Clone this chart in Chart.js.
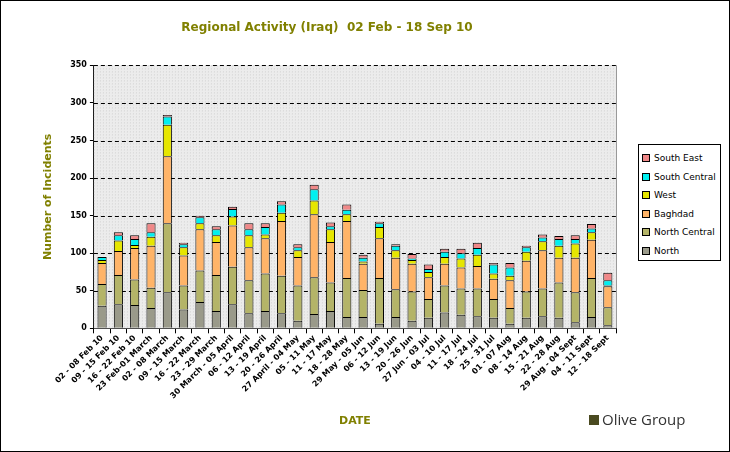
<!DOCTYPE html>
<html><head><meta charset="utf-8">
<script src="https://cdn.jsdelivr.net/npm/chart.js@4.4.0/dist/chart.umd.min.js"></script>
<style>
body{margin:0;background:#fff;font-family:Verdana,"DejaVu Sans",sans-serif}
#wrap{position:relative;width:728px;height:450px;border:1px solid #000}
#legend{position:absolute;left:637px;top:143px;width:83px;height:117px;border:1px solid #000;background:#fff;font-size:9px;box-sizing:border-box;padding:4px 3px}
#legend div{display:flex;align-items:center;height:18.5px}
#legend span.s{display:inline-block;width:6px;height:6px;border:1px solid #000;margin-right:4px}
#logo{position:absolute;left:588px;top:408px;font-size:15px;color:#333;font-family:"Open Sans",sans-serif}
#logo b{display:inline-block;width:10px;height:10px;background:#4a4a20;margin-right:3px}
</style></head><body>
<div id="wrap"><canvas id="c" width="728" height="450"></canvas>
<div id="legend"></div>
<div id="logo"><b></b>Olive Group</div></div>
<script>
const categories=["02 - 08 Feb 10","09 - 15 Feb 10","16 - 22 Feb 10","23 Feb-01 March","02 - 08 March","09 - 15 March","16 - 22 March","23 - 29 March","30 March - 05 April","06 - 12 April","13 - 19 April","20 - 26 April","27 April - 04 May","05 - 11 May","11 - 17 May","18 - 28 May","29 May - 05 Jun","06 - 12 Jun","13 - 19 Jun","20 - 26 Jun","27 Jun - 03 Jul","04 - 10 Jul","11 - 17 Jul","18 - 24 Jul","25 - 31 Jul","01 - 07 Aug","08 - 14 Aug","15 - 21 Aug","22 - 28 Aug","29 Aug - 04 Sept","04 - 11 Sept","12 - 18 Sept"];
const north=[30,32,31,27,48,25,35,23,32,20,23,20,10,19,23,15,15,6,15,10,14,21,18,16,14,6,14,16,14,8,15,4];
const northCentral=[29,39,34,27,92,32,42,48,50,44,50,50,47,49,38,52,36,61,37,39,25,36,35,37,25,21,35,37,47,40,52,24];
const baghdad=[28,32,42,56,89,40,55,44,55,44,47,73,38,84,54,76,35,53,42,37,29,29,28,30,27,37,41,51,33,46,51,28];
const west=[4,14,4,12,42,11,8,9,12,16,5,11,9,18,17,9,3,15,10,5,7,9,12,15,7,6,12,12,16,19,10,1];
const southCentral=[4,7,8,6,11,4,8,8,10,8,10,11,4,15,4,6,5,5,6,2,4,7,7,9,12,11,6,5,9,6,5,7];
const southEast=[0,4,5,12,2,2,2,4,3,8,5,4,4,6,5,7,4,2,2,6,6,4,6,7,2,6,2,4,4,5,6,10];
const yTicks=[0,50,100,150,200,250,300,350];

const ctx=document.getElementById('c').getContext('2d');
const series=[
 ["North",north,"#9a9a8a"],
 ["North Central",northCentral,"#b4b468"],
 ["Baghdad",baghdad,"#ffb468"],
 ["West",west,"#e6e600"],
 ["South Central",southCentral,"#00f0f0"],
 ["South East",southEast,"#f08888"]];
const lg=document.getElementById('legend');
series.slice().reverse().forEach(s=>{lg.innerHTML+=`<div><span class="s" style="background:${s[2]}"></span>${s[0]}</div>`;});
const bgPlugin={id:'bg',beforeDatasetsDraw(ch){const a=ch.chartArea,c=ch.ctx;c.save();c.fillStyle='#ececec';c.fillRect(a.left,a.top,a.right-a.left,a.bottom-a.top);
 c.fillStyle='#d0d0d0';for(let x=a.left;x<a.right;x+=3)for(let y=a.top;y<a.bottom;y+=3)c.fillRect(x,y,1,1);
 const ys=ch.scales.y;c.strokeStyle='#000';c.lineWidth=1;c.setLineDash([4,3]);
 yTicks.slice(1).forEach(v=>{const p=Math.round(ys.getPixelForValue(v))+0.5;c.beginPath();c.moveTo(a.left,p);c.lineTo(a.right,p);c.stroke();});
 c.setLineDash([]);c.strokeStyle='#999';c.beginPath();c.moveTo(a.right+0.5,a.top);c.lineTo(a.right+0.5,a.bottom);c.stroke();
 c.restore();}};
const F='Verdana, DejaVu Sans';
new Chart(ctx,{type:'bar',
 data:{labels:categories,datasets:series.map(s=>({label:s[0],data:s[1],backgroundColor:s[2],borderColor:'#000',borderWidth:1,barPercentage:0.56,categoryPercentage:1}))},
 options:{responsive:false,animation:false,
  layout:{padding:{left:37,right:113,top:10,bottom:19}},
  plugins:{legend:{display:false},tooltip:{enabled:false},
   title:{display:true,text:'Regional Activity (Iraq)  02 Feb - 18 Sep 10',color:'#808000',font:{size:12,weight:'bold',family:F},padding:{top:10,bottom:30}}},
  scales:{
   x:{stacked:true,grid:{display:true,drawOnChartArea:false,color:'#000',tickLength:5},border:{color:'#000'},
     ticks:{color:'#000',minRotation:45,maxRotation:45,autoSkip:false,padding:0,font:{size:8,weight:'bold',family:F}},
     title:{display:true,text:'DATE',color:'#808000',font:{size:11,weight:'bold',family:F},padding:{top:14}}},
   y:{stacked:true,min:0,max:350,afterBuildTicks(ax){ax.ticks=yTicks.map(v=>({value:v}));},
     grid:{display:true,drawOnChartArea:false,color:'#000',tickLength:4},border:{color:'#000'},
     ticks:{color:'#000',font:{size:8,weight:'bold',family:F}},
     title:{display:true,text:'Number of Incidents',color:'#808000',font:{size:11,weight:'bold',family:F},padding:{bottom:12}}}}},
 plugins:[bgPlugin]});
</script></body></html>
